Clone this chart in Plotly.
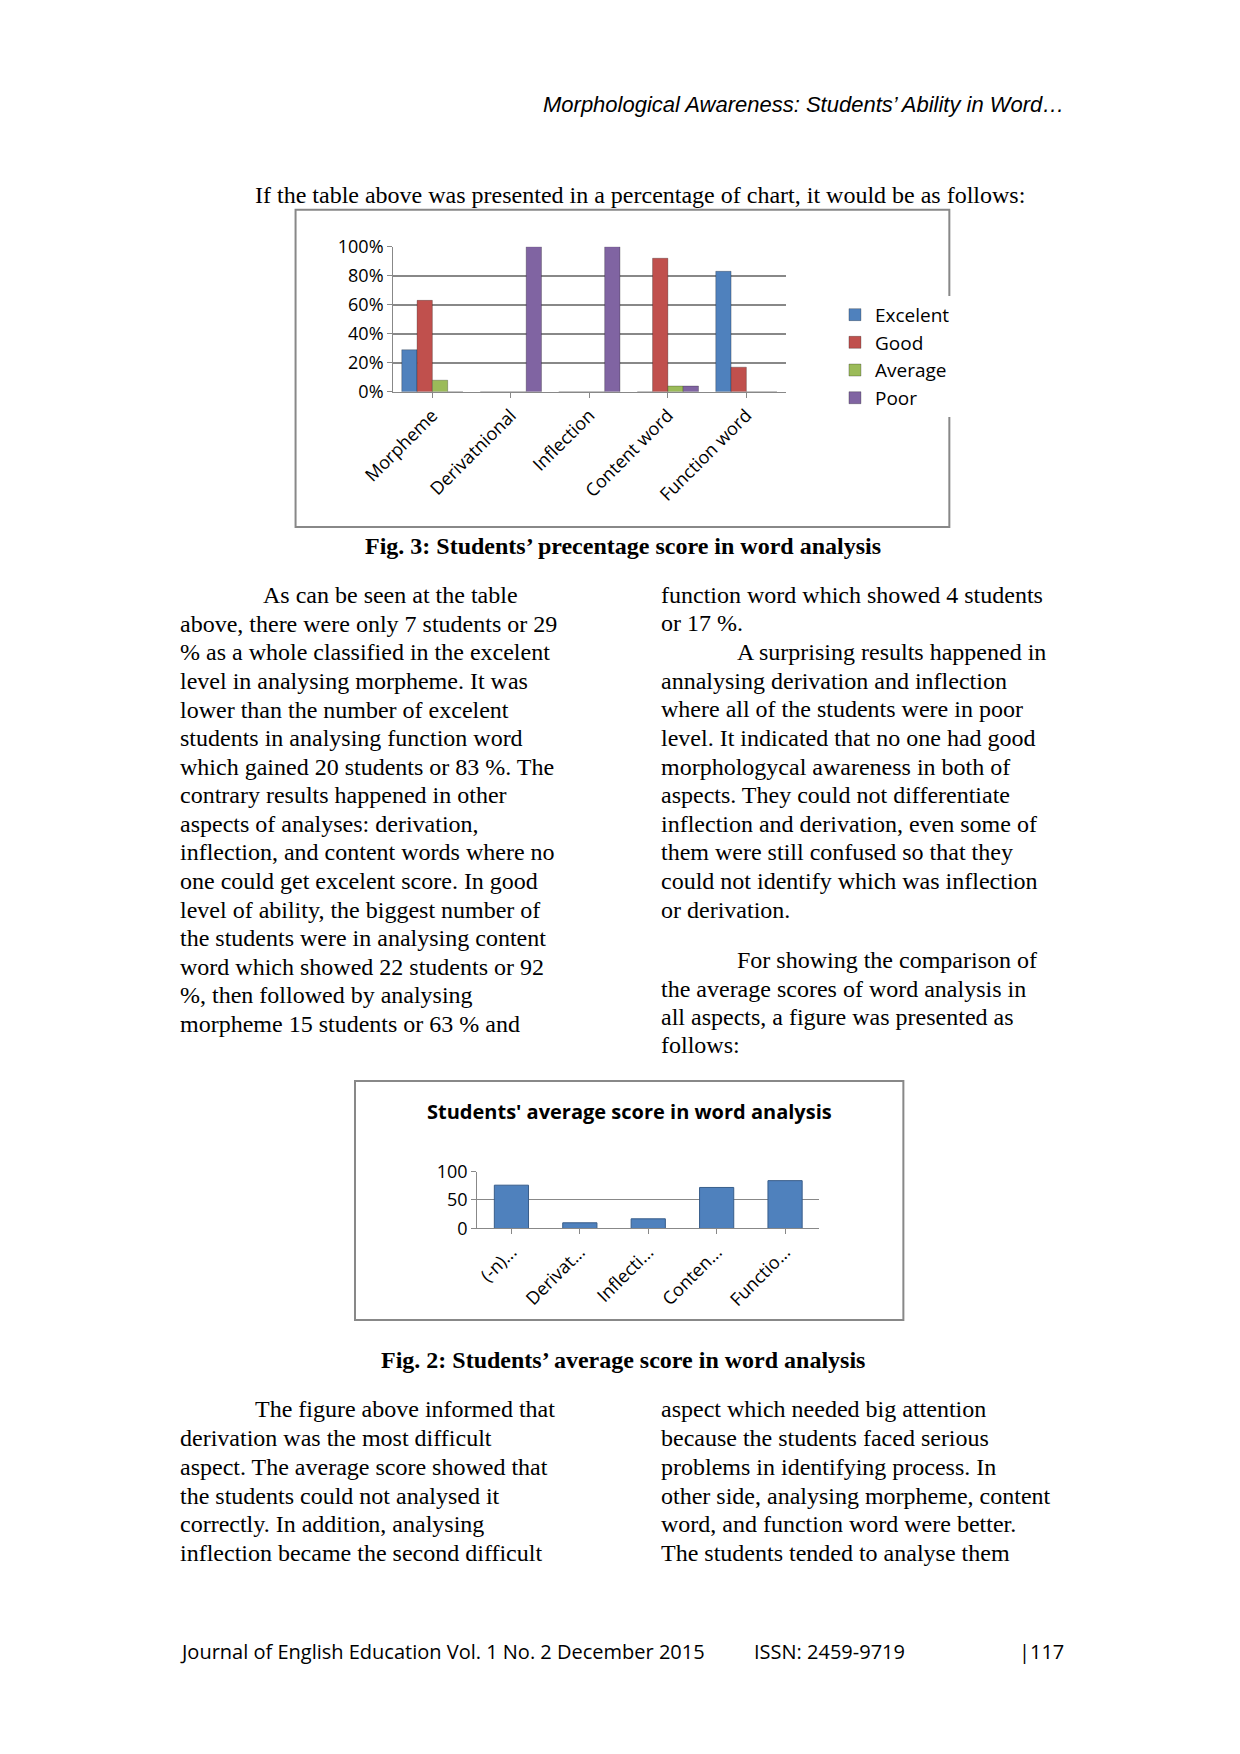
import plotly.graph_objects as go

W, H = 1240, 1754

aspects = ["Morpheme", "Derivatnional", "Inflection", "Content word", "Function word"]
levels = ["Excelent", "Good", "Average", "Poor"]
excelent = [29, 0, 0, 0, 83]
good = [63, 0, 0, 92, 17]
average = [8, 0, 0, 4, 0]
poor = [0, 100, 100, 4, 0]
level_values = [excelent, good, average, poor]
colors = ["#4F81BD", "#C0504D", "#9BBB59", "#8064A2"]

avg_labels = ["(-n)...", "Derivat...", "Inflecti...", "Conten...", "Functio..."]
avg_scores = [76, 10, 17, 72, 84]

def px(x): return ((x - 36) / 0.868) / W
def py(y): return 1 - ((y - 16) / 0.883) / H

fig = go.Figure()
for name, vals, c in zip(levels, level_values, colors):
    fig.add_trace(go.Bar(x=aspects, y=vals, name=name, marker_color=c,
                         marker_line=dict(color="rgba(0,0,0,0.25)", width=1),
                         xaxis="x", yaxis="y"))
fig.add_trace(go.Bar(x=avg_labels, y=avg_scores, marker_color="#4F81BD",
                     marker_line=dict(color="#385D8A", width=1),
                     showlegend=False, xaxis="x2", yaxis="y2", width=0.5))

fig.update_layout(
    width=W, height=H, margin=dict(l=0, r=0, t=0, b=0),
    paper_bgcolor="white", plot_bgcolor="white", bargap=0.22, bargroupgap=0,
    xaxis=dict(domain=[px(350), px(700)], anchor="y", tickangle=-45,
               tickfont=dict(family="Open Sans", size=18, color="black"),
               showline=True, linecolor="#888", ticks="outside", tickcolor="#888"),
    yaxis=dict(domain=[py(348), py(218)], anchor="x", range=[0, 100], dtick=20,
               ticksuffix="%", showgrid=True, gridcolor="#888", gridwidth=1.5,
               showline=True, linecolor="#888", ticks="outside", tickcolor="#888",
               tickfont=dict(family="Open Sans", size=18, color="black")),
    xaxis2=dict(domain=[px(425), px(730)], anchor="y2", tickangle=-45,
                tickfont=dict(family="Open Sans", size=18, color="black"),
                showline=True, linecolor="#888", ticks="outside", tickcolor="#888"),
    yaxis2=dict(domain=[py(1097), py(1046)], anchor="x2", range=[0, 100], dtick=50,
                showgrid=True, gridcolor="#888", showline=True, linecolor="#888",
                ticks="outside", tickcolor="#888",
                tickfont=dict(family="Open Sans", size=18, color="black")),
    legend=dict(x=px(744), y=py(262), xanchor="left", yanchor="top",
                font=dict(family="Open Sans", size=19, color="black"),
                tracegroupgap=14, itemwidth=30),
)

shapes = [
    dict(type="rect", xref="paper", yref="paper", x0=px(263), x1=px(846),
         y0=py(469), y1=py(185), line=dict(color="#888", width=2)),
    dict(type="rect", xref="paper", yref="paper", x0=px(316), x1=px(805),
         y0=py(1179), y1=py(965), line=dict(color="#888", width=2)),
]
fig.update_layout(shapes=shapes)

ann = []
def t(x, y, s, size=24, fam="Liberation Serif", anchor="left", bold=False, italic=False):
    if bold: s = "<b>" + s + "</b>"
    if italic: s = "<i>" + s + "</i>"
    ann.append(dict(x=px(x), y=py(y), xref="paper", yref="paper", text=s, showarrow=False,
                    xanchor=anchor, yanchor="middle", font=dict(family=fam, size=size, color="black")))

t(950, 91, "Morphological Awareness: Students’ Ability in Word…", size=22,
  fam="Liberation Sans Narrow, Liberation Sans", anchor="right", italic=True)
t(225, 172, "If the table above was presented in a percentage of chart, it would be as follows:")
t(555, 486, "Fig. 3: Students’ precentage score in word analysis", anchor="center", bold=True)
t(561, 992, "Students' average score in word analysis", size=20, fam="Open Sans",
  anchor="center", bold=True)
t(555, 1215, "Fig. 2: Students’ average score in word analysis", anchor="center", bold=True)

left1 = ["As can be seen at the table", "above, there were only 7 students or 29",
         "% as a whole classified in the excelent", "level in analysing morpheme. It was",
         "lower than the number of excelent", "students in analysing function word",
         "which gained 20 students or 83 %. The", "contrary results happened in other",
         "aspects of analyses: derivation,", "inflection, and content words where no",
         "one could get excelent score. In good", "level of ability, the biggest number of",
         "the students were in analysing content", "word which showed 22 students or 92",
         "%, then followed by analysing", "morpheme 15 students or 63 % and"]
for i, s in enumerate(left1):
    t(232 if i == 0 else 158, 530 + i * 25.6, s)

right1 = [(587, 530, "function word which showed 4 students"), (587, 555, "or 17 %."),
          (655, 581, "A surprising results happened in"),
          (587, 607, "annalysing derivation and inflection"),
          (587, 632, "where all of the students were in poor"),
          (587, 658, "level. It indicated that no one had good"),
          (587, 684, "morphologycal awareness in both of"),
          (587, 709, "aspects. They could not differentiate"),
          (587, 735, "inflection and derivation, even some of"),
          (587, 760, "them were still confused so that they"),
          (587, 786, "could not identify which was inflection"),
          (587, 812, "or derivation."),
          (655, 857, "For showing the comparison of"),
          (587, 883, "the average scores of word analysis in"),
          (587, 908, "all aspects, a figure was presented as"),
          (587, 933, "follows:")]
for x, y, s in right1:
    t(x, y, s)

left2 = ["The figure above informed that", "derivation was the most difficult",
         "aspect. The average score showed that", "the students could not analysed it",
         "correctly. In addition, analysing", "inflection became the second difficult"]
right2 = ["aspect which needed big attention", "because the students faced serious",
          "problems in identifying process. In", "other side, analysing morpheme, content",
          "word, and function word were better.", "The students tended to analyse them"]
for i, s in enumerate(left2):
    t(225 if i == 0 else 158, 1259 + i * 25.7, s)
for i, s in enumerate(right2):
    t(587, 1259 + i * 25.7, s)

t(158, 1476, "Journal of English Education Vol. 1 No. 2 December 2015", size=20, fam="Open Sans")
t(670, 1476, "ISSN: 2459-9719", size=20, fam="Open Sans")
t(950, 1476, "|117", size=20, fam="Open Sans", anchor="right")

fig.update_layout(annotations=ann)
fig.write_html("out.html")
